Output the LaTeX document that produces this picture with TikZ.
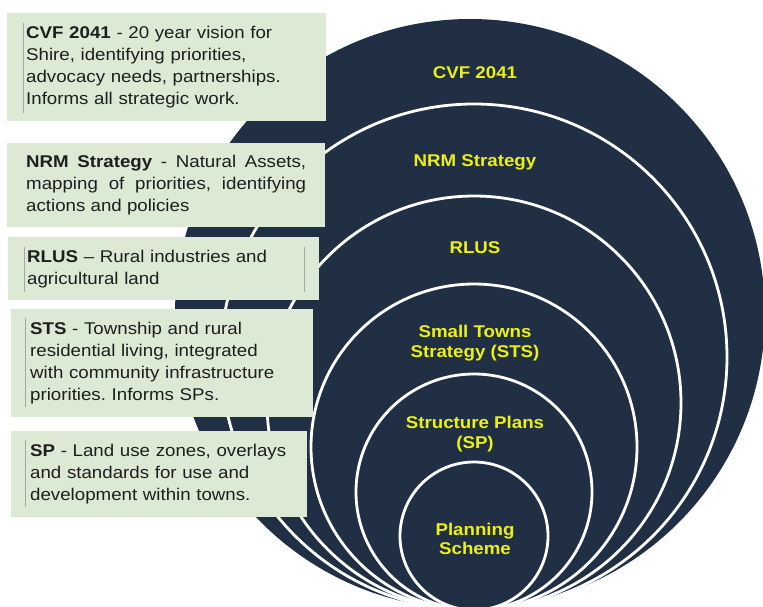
\documentclass[tikz,border=0pt]{standalone}
\usepackage{fontspec}
\setmainfont{Liberation Sans}[FakeStretch=1.1]
\usepackage{xcolor}
\usepackage{tikz}
\usetikzlibrary{calc}
\definecolor{ringnavy}{RGB}{33,47,69}
\definecolor{boxgreen}{RGB}{220,234,213}
\definecolor{ringyellow}{RGB}{236,240,20}
\definecolor{bodytext}{RGB}{30,30,30}
\frenchspacing
\tikzset{
	descbox/.style={fill=boxgreen,anchor=north west,inner xsep=19pt,inner ysep=0pt,
		align=left,text=bodytext,font=\fontsize{17}{22}\selectfont},
	ringline/.style={draw=white,line width=2.8pt},
	ringlabel/.style={text=ringyellow,align=center,font=\bfseries\fontsize{17}{19.5}\selectfont},
	edgemark/.style={draw=gray!70,line width=0.7pt}
}

\begin{document}
\begin{tikzpicture}[x=1pt,y=-1pt]
					\useasboundingbox (0,0) rectangle (763,606);
					\clip (0,0) rectangle (763,606);
					\fill[ringnavy] (470,314) circle (295pt);
					\foreach \r in {253,207,163,118,74}
						\draw[ringline] (474,610-\r) circle (\r pt);
					\node[descbox,text width=281pt,minimum height=108pt] (cvfbox) at (7,13)
						{\textbf{CVF 2041} - 20 year vision for\\Shire, identifying priorities,\\advocacy needs, partnerships.\\Informs all strategic work.};
					\node[descbox,align=justify,text width=280pt,minimum height=84pt] (nrmbox) at (7,143)
						{\textbf{NRM Strategy} - Natural Assets,\linebreak mapping of priorities, identifying\linebreak actions and policies};
					\node[descbox,text width=273pt,minimum height=63pt] (rlusbox) at (8,237)
						{\textbf{RLUS} – Rural industries and\\agricultural land};
					\node[descbox,text width=264pt,minimum height=108pt] (stsbox) at (11,309)
						{\textbf{STS} - Township and rural\\residential living, integrated\\with community infrastructure\\priorities. Informs SPs.};
					\node[descbox,text width=258pt,minimum height=86pt] (spbox) at (11,431)
						{\textbf{SP} - Land use zones, overlays\\and standards for use and\\development within towns.};
					\draw[edgemark] ($(cvfbox.north west)+(16,10)$) -- ($(cvfbox.south west)+(16,-8)$);
					\draw[edgemark] ($(rlusbox.north west)+(16,10)$) -- ($(rlusbox.south west)+(16,-8)$);
					\draw[edgemark] ($(rlusbox.north east)+(-15,10)$) -- ($(rlusbox.south east)+(-15,-8)$);
					\draw[edgemark] ($(stsbox.north west)+(14,9)$) -- ($(stsbox.south west)+(14,-10)$);
					\draw[edgemark] ($(spbox.north west)+(14,9)$) -- ($(spbox.south west)+(14,-10)$);
					\node[ringlabel] (cvf) at (475,73) {CVF 2041};
					\node[ringlabel] (nrm) at (475,162) {NRM Strategy};
					\node[ringlabel] (rlus) at (475,248) {RLUS};
					\node[ringlabel] (sts) at (475,343) {Small Towns\\Strategy (STS)};
					\node[ringlabel] (sp) at (475,434) {Structure Plans\\(SP)};
					\node[ringlabel] (ps) at (475,539) {Planning\\Scheme};
				\end{tikzpicture}
\end{document}
